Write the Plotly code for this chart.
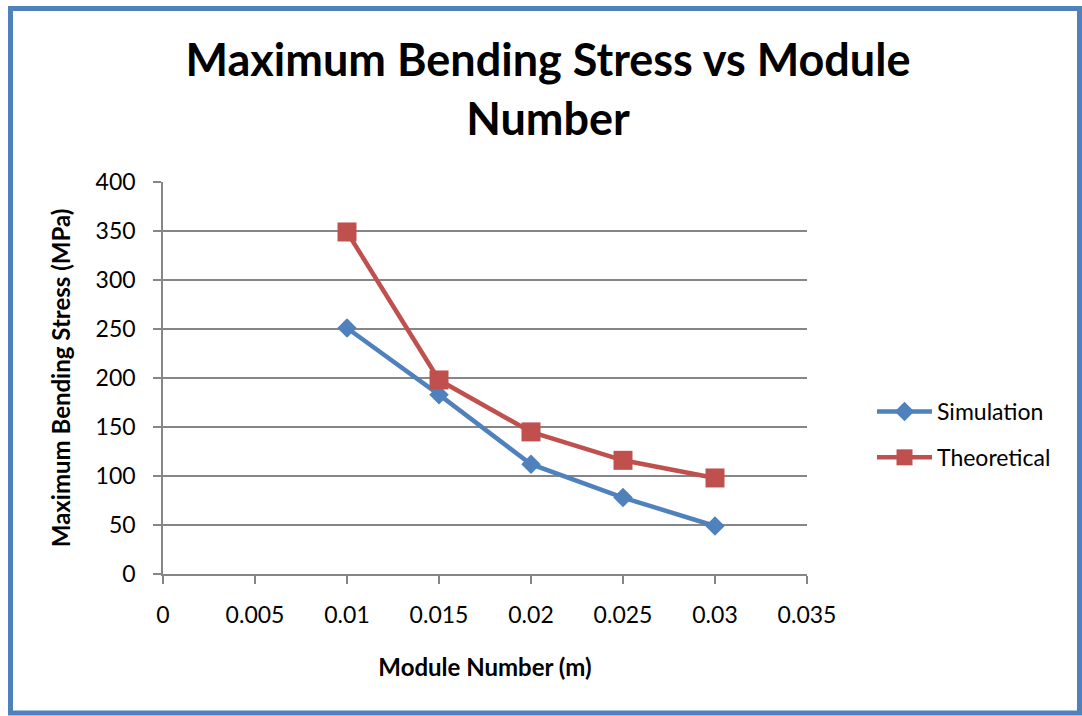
import plotly.graph_objects as go

module_number = [0.01, 0.015, 0.02, 0.025, 0.03]
simulation = [251, 183, 112, 78, 49]
theoretical = [349, 198, 145, 116, 98]
x_ticks = [0, 0.005, 0.01, 0.015, 0.02, 0.025, 0.03, 0.035]
x_tick_labels = ["0", "0.005", "0.01", "0.015", "0.02", "0.025", "0.03", "0.035"]
y_ticks = [0, 50, 100, 150, 200, 250, 300, 350, 400]

FONT = "Lato, Calibri, Carlito, sans-serif"
W, H = 1082, 716
L, R, T, B = 163, 807, 182, 574

fig = go.Figure()
fig.add_trace(go.Scatter(
    x=module_number, y=simulation, name="Simulation", mode="lines+markers",
    legendgroup="sim",
    line=dict(color="#4F81BD", width=4.5),
    marker=dict(symbol="diamond", size=15, color="#4F81BD"),
))
fig.add_trace(go.Scatter(
    x=module_number, y=theoretical, name="Theoretical", mode="lines+markers",
    legendgroup="theo",
    line=dict(color="#C0504D", width=4.5),
    marker=dict(symbol="square", size=19, color="#C0504D"),
))

def px_x(p):
    return (p - L) / (R - L)

def px_y(p):
    return (B - p) / (B - T)

fig.add_shape(type="rect", xref="paper", yref="paper",
              x0=px_x(10.5), x1=px_x(1079.5), y0=px_y(713), y1=px_y(8.5),
              line=dict(color="#4F81BD", width=5), fillcolor="rgba(0,0,0,0)", layer="above")

fig.update_layout(
    width=W, height=H,
    margin=dict(l=L, r=W - R, t=T, b=H - B),
    paper_bgcolor="white", plot_bgcolor="white",
    font=dict(family=FONT, color="black"),
    title=dict(text="<b>Maximum Bending Stress vs Module<br>Number</b>",
               x=548 / W, xanchor="center", y=1 - 76 / H, yanchor="top", yref="container",
               font=dict(size=45, family=FONT, color="black")),
    xaxis=dict(range=[0, 0.035], tickvals=x_ticks, ticktext=x_tick_labels,
               showgrid=False, showline=True, linecolor="#868686", linewidth=1.5,
               ticks="outside", ticklen=8, tickcolor="#868686", tickwidth=1.5,
               ticklabelstandoff=12,
               tickfont=dict(size=23, family=FONT), zeroline=False,
               title=dict(text="<b>Module Number (m)</b>", font=dict(size=24, family=FONT), standoff=32)),
    yaxis=dict(range=[0, 400], tickvals=y_ticks,
               showgrid=True, gridcolor="#868686", gridwidth=1.5,
               showline=True, linecolor="#868686", linewidth=1.5,
               ticks="outside", ticklen=8, tickcolor="#868686", tickwidth=1.5,
               ticklabelstandoff=13,
               tickfont=dict(size=23, family=FONT), zeroline=False,
               title=dict(text="<b>Maximum Bending Stress (MPa)</b>", font=dict(size=24, family=FONT), standoff=18)),
    legend=dict(x=px_x(872), xanchor="left", y=px_y(390), yanchor="top",
                font=dict(size=23, family=FONT), itemwidth=55, tracegroupgap=13,
                bgcolor="rgba(0,0,0,0)"),
    showlegend=True,
)

fig.write_html("out.html")
